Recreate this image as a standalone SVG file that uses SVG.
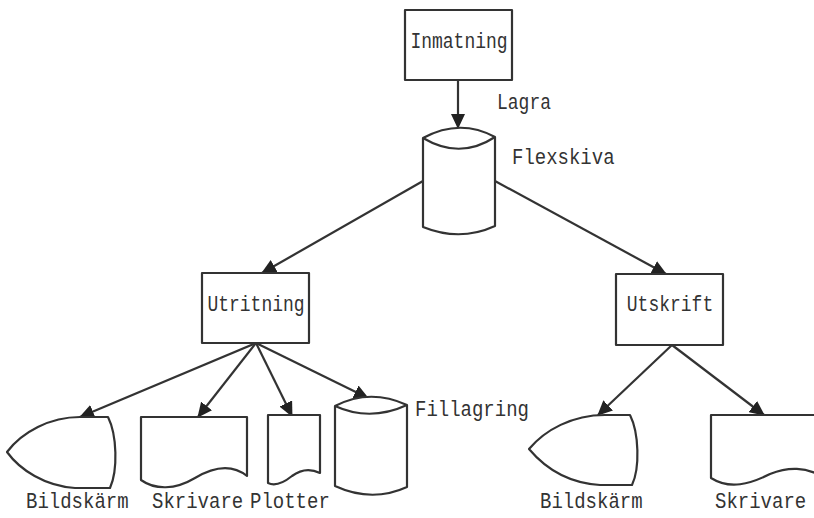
<svg xmlns="http://www.w3.org/2000/svg" width="814" height="518" viewBox="0 0 814 518">
<style>
.shape{fill:#fff;stroke:#333;stroke-width:2.2;stroke-linejoin:round}
.edge{stroke:#333;stroke-width:2.2;fill:none}
.t{font-family:"Liberation Mono","DejaVu Sans Mono",monospace;font-size:18px;fill:#333}
.tb{font-family:"Liberation Mono","DejaVu Sans Mono",monospace;font-size:19px;fill:#333}
</style>
<defs>
<marker id="ah" markerUnits="userSpaceOnUse" markerWidth="16" markerHeight="14" refX="14" refY="7" orient="auto">
<path d="M0,0 L15,7 L0,14 Z" fill="#222"/>
</marker>
</defs>
<rect width="814" height="518" fill="#fff"/>
<g id="connectors">
<line class="edge" x1="458" y1="80" x2="458" y2="128" marker-end="url(#ah)"/>
<line class="edge" x1="423" y1="181" x2="262" y2="273" marker-end="url(#ah)"/>
<line class="edge" x1="495" y1="181" x2="666" y2="274" marker-end="url(#ah)"/>
<line class="edge" x1="256" y1="343" x2="80" y2="417" marker-end="url(#ah)"/>
<line class="edge" x1="256" y1="343" x2="198" y2="417" marker-end="url(#ah)"/>
<line class="edge" x1="256" y1="343" x2="292" y2="416" marker-end="url(#ah)"/>
<line class="edge" x1="256" y1="343" x2="368" y2="398" marker-end="url(#ah)"/>
<line class="edge" x1="672" y1="345" x2="598" y2="415" marker-end="url(#ah)"/>
<line class="edge" x1="672" y1="345" x2="764" y2="415" marker-end="url(#ah)"/>
</g>
<g id="inmatning">
<rect class="shape" x="405" y="10" width="107" height="70"/>
<text class="t" transform="translate(459 48) scale(1 1.25)" text-anchor="middle">Inmatning</text>
</g>
<g id="lagra">
<text class="t" transform="translate(497 109) scale(1 1.2)">Lagra</text>
</g>
<g id="flexskiva">
<path class="shape" d="M423,138 Q460,118 495,137 L495,226 Q460,242 423,227 Z"/>
<path class="edge" d="M423,138 Q460,160 495,137"/>
<text class="tb" transform="translate(512 164) scale(1 1.2)">Flexskiva</text>
</g>
<g id="utritning">
<rect class="shape" x="202" y="273" width="107" height="70"/>
<text class="t" transform="translate(256 311) scale(1 1.25)" text-anchor="middle">Utritning</text>
</g>
<g id="utskrift">
<rect class="shape" x="616" y="274" width="107" height="71"/>
<text class="t" transform="translate(670 311) scale(1 1.25)" text-anchor="middle">Utskrift</text>
</g>
<g id="bildskarm1">
<path class="shape" d="M108,417 C117,435 118,470 110,488 L75,488 C45,486 20,470 7,452 C22,432 50,417 80,417 Z"/>
<text class="tb" transform="translate(26 508) scale(1 1.15)">Bildskärm</text>
</g>
<g id="skrivare1">
<path class="shape" d="M141,417 L247,417 L247,476 C232,464 215,466 195,478 C175,490 155,490 141,480 Z"/>
<text class="tb" transform="translate(152 508) scale(1 1.15)">Skrivare</text>
</g>
<g id="plotter">
<path class="shape" d="M268,415 L320,415 L320,473 C310,468 300,470 292,476 C282,484 274,486 268,483 Z"/>
<text class="tb" transform="translate(250 508) scale(1 1.15)">Plotter</text>
</g>
<g id="fillagring">
<path class="shape" d="M335,406 Q370,388 407,405 L407,487 Q372,503 335,486 Z"/>
<path class="edge" d="M335,406 Q370,422 407,405"/>
<text class="tb" transform="translate(415 416) scale(1 1.2)">Fillagring</text>
</g>
<g id="bildskarm2">
<path class="shape" d="M630,415 C639,433 640,468 632,485 L600,485 C568,483 545,468 529,449 C545,430 572,415 605,415 Z"/>
<text class="tb" transform="translate(540 508) scale(1 1.15)">Bildskärm</text>
</g>
<g id="skrivare2">
<path class="shape" d="M711,415 L820,415 L820,475 C805,468 790,466 770,474 C750,484 730,490 711,478 Z"/>
<text class="tb" transform="translate(715 508) scale(1 1.15)">Skrivare</text>
</g>
</svg>
